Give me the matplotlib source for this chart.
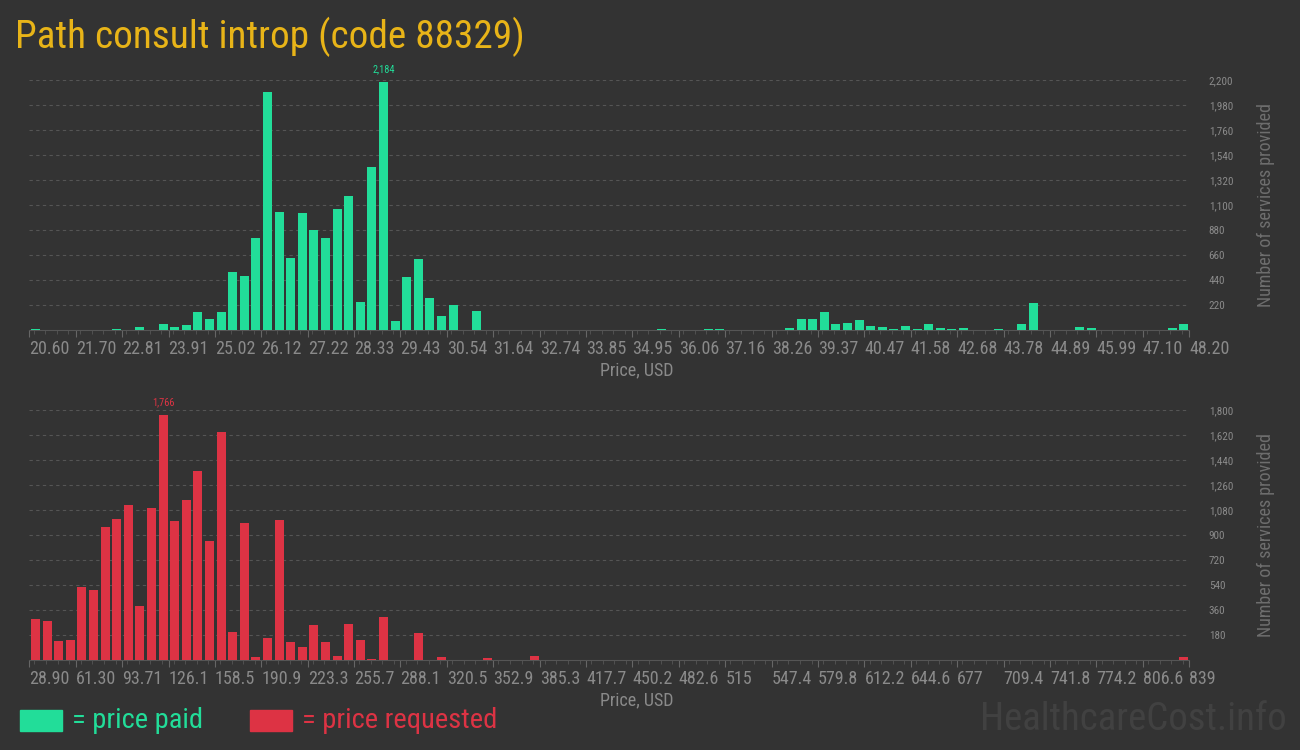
# Price histogram for code 88329: price paid (top) and price requested (bottom).
import matplotlib.pyplot as plt
from matplotlib.ticker import FuncFormatter, MultipleLocator
import matplotlib.transforms as mtransforms

plt.rcParams['font.family'] = ['Roboto Condensed', 'Liberation Sans Narrow', 'Roboto', 'DejaVu Sans']

BG = '#333333'
GREEN = '#22dd99'
RED = '#dd3344'

# price paid: 100 bins starting at 20.60, bin width 0.276 USD
paid_start = 20.60
paid_width = 0.276
paid_bins = [0, 7, 9, 11, 12, 13, 14, 15, 16, 17, 18, 19, 20, 21, 22, 23, 24,
             25, 26, 27, 28, 29, 30, 31, 32, 33, 34, 35, 36, 38, 54, 58, 59,
             65, 66, 67, 68, 69, 70, 71, 72, 73, 74, 75, 76, 77, 78, 79, 80,
             83, 85, 86, 90, 91, 98, 99]
paid_counts = [10, 10, 26, 53, 26, 44, 158, 97, 158, 510, 475, 810, 2094,
               1038, 634, 1030, 880, 810, 1065, 1179, 246, 1434, 2184, 79,
               466, 625, 282, 123, 220, 167, 9, 9, 9, 18, 97, 97, 158, 53, 62,
               88, 35, 26, 9, 35, 9, 53, 18, 9, 18, 9, 53, 238, 26, 18, 18, 53]
paid_ticks = ['20.60', '21.70', '22.81', '23.91', '25.02', '26.12', '27.22',
              '28.33', '29.43', '30.54', '31.64', '32.74', '33.85', '34.95',
              '36.06', '37.16', '38.26', '39.37', '40.47', '41.58', '42.68',
              '43.78', '44.89', '45.99', '47.10', '48.20']

# price requested: 100 bins starting at 28.90, bin width 8.1 USD
req_start = 28.90
req_width = 8.1
req_bins = [0, 1, 2, 3, 4, 5, 6, 7, 8, 9, 10, 11, 12, 13, 14, 15, 16, 17, 18,
            19, 20, 21, 22, 23, 24, 25, 26, 27, 28, 29, 30, 33, 35, 39, 43, 99]
req_counts = [295, 281, 137, 144, 526, 504, 958, 1015, 1116, 389, 1094, 1766,
              1001, 1152, 1361, 857, 1642, 202, 986, 22, 158, 1008, 130, 94,
              252, 130, 29, 259, 144, 7, 310, 194, 22, 14, 29, 22]
req_ticks = ['28.90', '61.30', '93.71', '126.1', '158.5', '190.9', '223.3',
             '255.7', '288.1', '320.5', '352.9', '385.3', '417.7', '450.2',
             '482.6', '515', '547.4', '579.8', '612.2', '644.6', '677', '709.4',
             '741.8', '774.2', '806.6', '839']

fig = plt.figure(figsize=(13, 7.5), dpi=100, facecolor=BG)


def draw(ax, start, width, bins, counts, ticks, color, ymax, ystep):
    ax.set_facecolor(BG)
    lefts = [start + (b + 0.15) * width for b in bins]
    ax.bar(lefts, counts, width=0.78 * width, align='edge', color=color,
           zorder=3)
    n_bins = 4 * (len(ticks) - 1)
    ax.set_xlim(start, start + n_bins * width)
    ax.set_ylim(0, ymax)

    # peak value label
    i = counts.index(max(counts))
    ax.text(lefts[i] + 0.39 * width, max(counts) + ymax * 0.03,
            format(max(counts), ','), color=color, fontsize=7.5,
            ha='center', va='bottom', clip_on=False)

    ax.set_xticks([start + 4 * k * width for k in range(len(ticks))])
    ax.set_xticklabels(ticks)
    ax.xaxis.set_minor_locator(MultipleLocator(width))
    shift = mtransforms.ScaledTranslation(-3 / 72, 0, fig.dpi_scale_trans)
    for lab in ax.get_xticklabels():
        lab.set_horizontalalignment('left')
        lab.set_transform(lab.get_transform() + shift)
    ax.tick_params(axis='x', which='major', length=5, color='#666666',
                   labelcolor='#8a8a8a', labelsize=13, pad=2)
    ax.tick_params(axis='x', which='minor', length=3, color='#555555')

    ax.yaxis.tick_right()
    ax.set_yticks([ystep * k for k in range(1, int(ymax / ystep) + 1)])
    ax.yaxis.set_major_formatter(FuncFormatter(lambda v, p: format(int(v), ',')))
    ax.tick_params(axis='y', length=0, labelcolor='#8a8a8a', labelsize=8,
                   pad=14)
    ax.grid(axis='y', color='#555555', linestyle=(0, (3, 3)), linewidth=0.8,
            zorder=0)

    for s in ['top', 'left', 'right']:
        ax.spines[s].set_visible(False)
    ax.spines['bottom'].set_color('#555555')

    ax.set_xlabel('Price, USD', color='#8a8a8a', fontsize=13)
    ax.xaxis.set_label_coords(0.524, -0.125)
    ax.yaxis.set_label_position('right')
    ax.set_ylabel('Number of services provided', color='#6e6e6e',
                  fontsize=13)
    ax.yaxis.set_label_coords(1.058, 0.5)


ax1 = fig.add_axes([0.02254, 0.56, 0.8923, 0.33333])
draw(ax1, paid_start, paid_width, paid_bins, paid_counts, paid_ticks,
     GREEN, 2200, 220)

ax2 = fig.add_axes([0.02254, 0.12, 0.8923, 0.33333])
draw(ax2, req_start, req_width, req_bins, req_counts, req_ticks,
     RED, 1800, 180)

fig.text(0.0115, 0.951, 'Path consult introp (code 88329)', color='#e8b418',
         fontsize=28.3, ha='left', va='center')

# legend
fig.patches.append(plt.Rectangle((20 / 1300, 19 / 750), 42 / 1300, 21 / 750,
                                 transform=fig.transFigure, color=GREEN))
fig.text(72 / 1300, 0.04, '= price paid', color=GREEN, fontsize=20.5,
         ha='left', va='center')
fig.patches.append(plt.Rectangle((250 / 1300, 19 / 750), 42 / 1300, 21 / 750,
                                 transform=fig.transFigure, color=RED))
fig.text(302 / 1300, 0.04, '= price requested', color=RED, fontsize=20.5,
         ha='left', va='center')

fig.text(0.99, 0.04, 'HealthcareCost.info', color='#414141', fontsize=28,
         ha='right', va='center')

fig.savefig('out.png', dpi=100, facecolor=BG)
